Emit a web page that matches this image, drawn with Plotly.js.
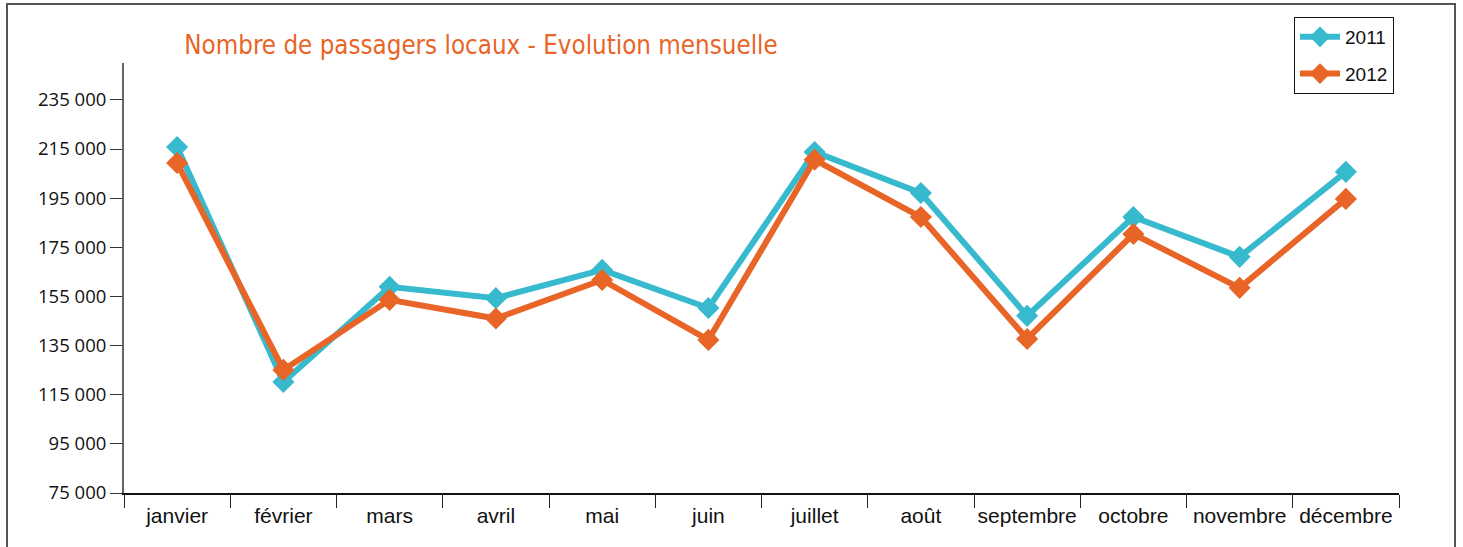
<!DOCTYPE html>
<html><head><meta charset="utf-8">
<script src="https://cdn.plot.ly/plotly-3.0.1.min.js"></script>
<style>html,body{margin:0;padding:0;background:#fff}#chart{width:1463px;height:547px}</style>
</head><body><div id="chart"></div>
<script>
const months = ["janvier","février","mars","avril","mai","juin","juillet","août","septembre","octobre","novembre","décembre"];
const values2011 = [215800, 120200, 158900, 154300, 165800, 150300, 213800, 197100, 147100, 187300, 171100, 205700];
const values2012 = [209300, 125100, 153600, 146000, 161700, 137300, 210600, 187300, 137700, 180400, 158500, 194700];
const yTickVals = [75000, 95000, 115000, 135000, 155000, 175000, 195000, 215000, 235000];
const yTickText = ["75 000","95 000","115 000","135 000","155 000","175 000","195 000","215 000","235 000"];
const seriesNames = ["2011","2012"];

const teal = "#37B9CE", orange = "#E86427";
const font = "'Liberation Sans', Arial, sans-serif";

const traces = [
  {x: months, y: values2011, name: seriesNames[0], legendgroup: "a", type: "scatter", mode: "lines+markers",
   line: {color: teal, width: 6}, marker: {symbol: "diamond", size: 17, color: teal}},
  {x: months, y: values2012, name: seriesNames[1], legendgroup: "b", type: "scatter", mode: "lines+markers",
   line: {color: orange, width: 6}, marker: {symbol: "diamond", size: 17, color: orange}}
];

const layout = {
  width: 1463, height: 547,
  margin: {l: 124, r: 64, t: 63, b: 54},
  paper_bgcolor: "#fff", plot_bgcolor: "#fff",
  showlegend: true,
  title: {text: "Nombre de passagers locaux - Evolution mensuelle",
          font: {family: "'DejaVu Sans Condensed', 'DejaVu Sans', sans-serif", size: 25.7, color: orange},
          x: 481/1463, xanchor: "center", y: 1 - 45/547, yanchor: "middle"},
  xaxis: {type: "category", tickson: "boundaries", ticks: "outside", ticklen: 13, tickcolor: "#222", tickwidth: 1,
          showline: true, linecolor: "#111", linewidth: 1.5, showgrid: false, zeroline: false,
          ticklabelstandoff: 3, tickangle: 0,
          range: [-0.5, 11.5], tickfont: {family: font, size: 21, color: "#111"}},
  yaxis: {range: [75000, 250000], tickmode: "array", tickvals: yTickVals, ticktext: yTickText,
          ticks: "outside", ticklen: 12, tickcolor: "#333", tickwidth: 1,
          showline: true, linecolor: "#666", linewidth: 2, showgrid: false, zeroline: false,
          tickfont: {family: "'Open Sans', sans-serif", size: 18.5, color: "#111"}},
  legend: {x: (1294-124)/1275, xanchor: "left", y: 1 + (63-17)/430, yanchor: "top",
           bordercolor: "#111", borderwidth: 1, bgcolor: "#fff",
           font: {family: font, size: 19, color: "#111"}, itemwidth: 40, tracegroupgap: 9},
  shapes: [
    {type: "rect", xref: "paper", yref: "paper",
     x0: (7-124)/1275, x1: (1455-124)/1275, y0: (493-560)/430, y1: (493-4)/430,
     line: {color: "#555", width: 2}, fillcolor: "rgba(0,0,0,0)", layer: "below"}
  ]
};

Plotly.newPlot("chart", traces, layout, {displayModeBar: false, staticPlot: true});
</script></body></html>
